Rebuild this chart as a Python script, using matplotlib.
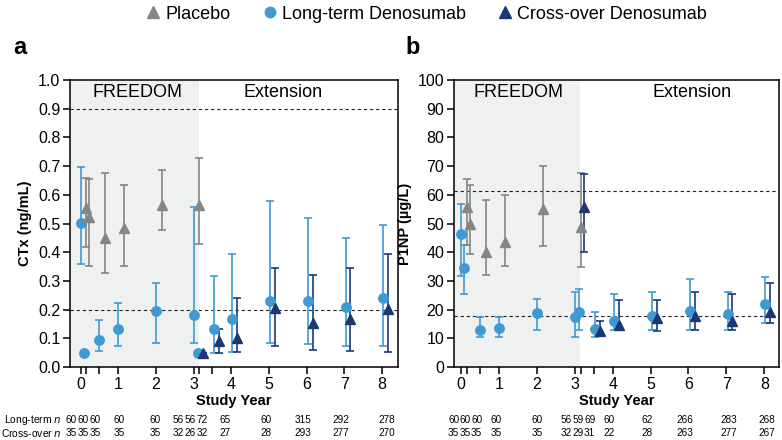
import numpy as np
import matplotlib.pyplot as plt
from matplotlib.lines import Line2D
import matplotlib.transforms as mtransforms

plt.rcParams['font.family'] = ['Liberation Sans', 'DejaVu Sans']

# time points (years)
t_freedom = [0, 1/12, 0.5, 1, 2, 3]
t_ext = [3 + 1/12, 3.5, 4, 5, 6, 7, 8]
t_long = t_freedom + t_ext

# ---- panel a: CTx (ng/mL) ----
ctx_long = [0.503, 0.047, 0.095, 0.132, 0.196, 0.182, 0.047, 0.131, 0.168, 0.230, 0.230, 0.208, 0.242]
ctx_long_lo = [0.358, 0.047, 0.057, 0.074, 0.082, 0.085, 0.047, 0.048, 0.053, 0.085, 0.079, 0.073, 0.073]
ctx_long_hi = [0.697, 0.047, 0.164, 0.222, 0.294, 0.557, 0.047, 0.317, 0.395, 0.578, 0.518, 0.448, 0.494]
ctx_pbo = [0.553, 0.524, 0.448, 0.486, 0.566, 0.566]
ctx_pbo_lo = [0.419, 0.352, 0.329, 0.352, 0.477, 0.428]
ctx_pbo_hi = [0.659, 0.654, 0.675, 0.633, 0.685, 0.727]
ctx_cross = [0.047, 0.092, 0.102, 0.205, 0.152, 0.167, 0.202]
ctx_cross_lo = [0.047, 0.048, 0.052, 0.073, 0.059, 0.057, 0.052]
ctx_cross_hi = [0.047, 0.131, 0.239, 0.344, 0.322, 0.346, 0.394]
ctx_refs = [0.9, 0.2]
n_long_a = ['60', '60', '60', '60', '60', '56', '56', '72', '65', '60', '315', '292', '278']
n_cross_a = ['35', '35', '35', '35', '35', '32', '26', '32', '27', '28', '293', '277', '270']

# ---- panel b: P1NP (ug/L) ----
p1np_long = [46.3, 34.4, 12.9, 13.5, 18.9, 17.5, 19.0, 13.1, 16.1, 17.6, 19.6, 18.4, 22.0]
p1np_long_lo = [31.7, 25.5, 10.6, 10.6, 12.9, 10.6, 12.9, 10.3, 12.9, 12.9, 12.9, 12.9, 15.2]
p1np_long_hi = [56.8, 42.4, 17.5, 17.5, 23.8, 26.0, 27.1, 19.2, 25.3, 26.0, 30.7, 26.0, 31.4]
p1np_pbo = [55.9, 50.0, 40.0, 43.6, 54.9, 48.7]
p1np_pbo_lo = [42.4, 39.4, 32.2, 35.2, 42.2, 34.9]
p1np_pbo_hi = [65.6, 63.3, 58.2, 59.8, 70.1, 67.5]
p1np_cross = [55.9, 12.5, 14.6, 16.9, 17.9, 16.0, 19.1]
p1np_cross_lo = [40.1, 10.8, 12.9, 12.6, 12.9, 12.9, 15.2]
p1np_cross_hi = [67.3, 16.0, 23.2, 23.2, 26.0, 25.3, 29.2]
p1np_refs = [61.2, 17.7]
n_long_b = ['60', '60', '60', '60', '60', '56', '59', '69', '60', '62', '266', '283', '268']
n_cross_b = ['35', '35', '35', '35', '35', '32', '29', '31', '22', '28', '263', '277', '267']

# layout: where the n counts sit along the x axis
n_pos_a = [-0.24, 0.07, 0.38, 1.02, 1.97, 2.58, 2.9, 3.22, 3.83, 4.92, 5.9, 6.9, 8.12]
n_pos_b = [-0.2, 0.1, 0.41, 0.92, 2.0, 2.77, 3.08, 3.39, 3.91, 4.9, 5.9, 7.07, 8.08]

c_long = '#3f9ad3'
c_pbo = '#858585'
c_cross = '#1b3875'
shade = '#eff0f0'

fig = plt.figure(figsize=(7.82, 4.40), dpi=100)
ax_a = fig.add_axes([0.0895, 0.166, 0.4194, 0.652])
ax_b = fig.add_axes([0.5806, 0.166, 0.4156, 0.652])


def series(ax, x, y, lo, hi, color, marker, ms):
    y = np.array(y)
    err = [y - np.array(lo), np.array(hi) - y]
    ax.errorbar(x, y, yerr=err, fmt=marker, color=color, ecolor=color,
                ms=ms, elinewidth=1.2, capsize=3.2, capthick=1.2, zorder=3)


def panel(ax, ylim, yticks, fmt, ylabel, refs, long_, long_lo, long_hi,
          pbo, pbo_lo, pbo_hi, cross, cross_lo, cross_hi, xlim, ext_x):
    ax.axvspan(xlim[0], 3.14, color=shade, lw=0, zorder=0)
    for r in refs:
        ax.axhline(r, color='#222222', lw=0.8, ls=(0, (3, 2.5)), zorder=1)
    x_long = np.array(t_long) + np.array([0] * 6 + [0.03] * 7)
    series(ax, x_long, long_, long_lo, long_hi, c_long, 'o', 6.8)
    series(ax, np.array(t_freedom) + 0.15, pbo, pbo_lo, pbo_hi, c_pbo, '^', 6.8)
    series(ax, np.array(t_ext) + 0.16, cross, cross_lo, cross_hi, c_cross, '^', 6.8)
    ax.set_xlim(*xlim)
    ax.set_ylim(*ylim)
    ax.set_yticks(yticks)
    ax.set_yticklabels([fmt.format(v) for v in yticks])
    ax.set_xticks(list(range(9)) + [0.15, 0.5, 3.15, 3.5])
    ax.set_xticklabels([str(i) for i in range(9)] + [''] * 4)
    ax.tick_params(axis='both', labelsize=11.5, length=5, width=1.1, direction='out', pad=2)
    for s in ax.spines.values():
        s.set_linewidth(1.1)
    ax.set_ylabel(ylabel, fontsize=10.5, fontweight='bold', labelpad=4)
    ax.set_xlabel('Study Year', fontsize=10.5, fontweight='bold', labelpad=2)
    top = ylim[1] * 0.955
    ax.text(1.5, top, 'FREEDOM', ha='center', va='center', fontsize=13)
    ax.text(ext_x, top, 'Extension', ha='center', va='center', fontsize=13)


panel(ax_a, (0, 1.0), np.round(np.arange(0, 1.01, 0.1), 1), '{:.1f}', 'CTx (ng/mL)', ctx_refs,
      ctx_long, ctx_long_lo, ctx_long_hi, ctx_pbo, ctx_pbo_lo, ctx_pbo_hi,
      ctx_cross, ctx_cross_lo, ctx_cross_hi, (-0.28, 8.42), 5.37)
panel(ax_b, (0, 100), np.arange(0, 101, 10), '{:d}', 'P1NP (µg/L)', p1np_refs,
      p1np_long, p1np_long_lo, p1np_long_hi, p1np_pbo, p1np_pbo_lo, p1np_pbo_hi,
      p1np_cross, p1np_cross_lo, p1np_cross_hi, (-0.19, 8.39), 6.1)

# n counts below each panel
for ax, pos, nl, nc in [(ax_a, n_pos_a, n_long_a, n_cross_a), (ax_b, n_pos_b, n_long_b, n_cross_b)]:
    trans = mtransforms.blended_transform_factory(ax.transData, fig.transFigure)
    for x, a, b in zip(pos, nl, nc):
        ax.text(x, 0.045, a, transform=trans, ha='center', va='center', fontsize=7.2, clip_on=False)
        ax.text(x, 0.016, b, transform=trans, ha='center', va='center', fontsize=7.2, clip_on=False)

fig.text(0.079, 0.045, 'Long-term $\\it{n}$', ha='right', va='center', fontsize=7.4)
fig.text(0.079, 0.016, 'Cross-over $\\it{n}$', ha='right', va='center', fontsize=7.4)

fig.text(0.026, 0.893, 'a', fontsize=17, fontweight='bold', ha='center', va='center')
fig.text(0.528, 0.893, 'b', fontsize=17, fontweight='bold', ha='center', va='center')

handles = [
    Line2D([], [], ls='none', marker='^', color=c_pbo, ms=8),
    Line2D([], [], ls='none', marker='o', color=c_long, ms=7.5),
    Line2D([], [], ls='none', marker='^', color=c_cross, ms=8),
]
fig.legend(handles, ['Placebo', 'Long-term Denosumab', 'Cross-over Denosumab'],
           loc='center', bbox_to_anchor=(0.543, 0.968), ncol=3, frameon=False,
           fontsize=13, handletextpad=0.05, columnspacing=1.6, handlelength=1.2,
           borderaxespad=0)

fig.savefig('out.png', dpi=100)
